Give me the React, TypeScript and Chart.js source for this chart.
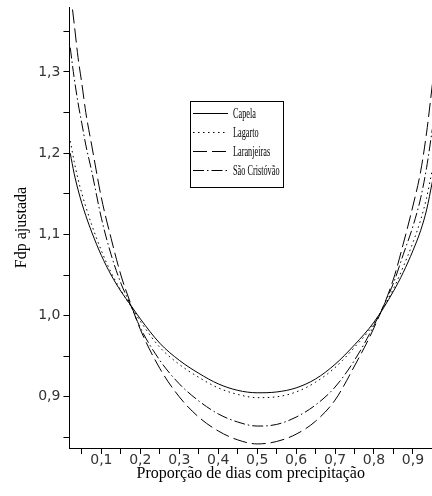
import React, { useEffect, useRef } from 'react';
import { Chart, registerables } from 'chart.js';

Chart.register(...registerables);

// Proportion of days with precipitation (x grid)
const xValues = [0.02, 0.03, 0.04, 0.05, 0.06, 0.075, 0.1, 0.125, 0.15, 0.175, 0.2, 0.25, 0.3, 0.35, 0.4, 0.45, 0.5, 0.55, 0.6, 0.65, 0.7, 0.75, 0.8, 0.85, 0.875, 0.9, 0.92, 0.935, 0.95];

const capela = [1.2, 1.175, 1.155, 1.138, 1.123, 1.103, 1.074, 1.05, 1.03, 1.013, 0.996, 0.966, 0.945, 0.929, 0.916, 0.908, 0.905, 0.906, 0.911, 0.922, 0.94, 0.964, 0.992, 1.03, 1.053, 1.08, 1.105, 1.13, 1.165];
const lagarto = [1.215, 1.19, 1.168, 1.15, 1.134, 1.112, 1.08, 1.053, 1.031, 1.012, 0.993, 0.961, 0.94, 0.924, 0.911, 0.903, 0.899, 0.9, 0.906, 0.918, 0.936, 0.961, 0.99, 1.033, 1.06, 1.09, 1.118, 1.145, 1.18];
const laranjeiras = [1.4, 1.36, 1.318, 1.285, 1.25, 1.21, 1.145, 1.095, 1.05, 1.015, 0.983, 0.935, 0.9, 0.875, 0.858, 0.847, 0.842, 0.845, 0.854, 0.87, 0.896, 0.938, 0.985, 1.045, 1.088, 1.135, 1.178, 1.225, 1.285];
const saoCristovao = [1.33, 1.293, 1.262, 1.236, 1.21, 1.178, 1.12, 1.075, 1.04, 1.013, 0.985, 0.945, 0.916, 0.895, 0.879, 0.869, 0.864, 0.866, 0.875, 0.89, 0.912, 0.945, 0.988, 1.04, 1.075, 1.11, 1.145, 1.182, 1.23];

const seriesNames = ['Capela', 'Lagarto', 'Laranjeiras', 'São Cristóvão'];
const seriesValues = [capela, lagarto, laranjeiras, saoCristovao];
const seriesDash: number[][] = [[], [1.5, 3.5], [14, 5], [11, 3, 1.5, 3]];

const xTickValues = [0.05, 0.1, 0.15, 0.2, 0.25, 0.3, 0.35, 0.4, 0.45, 0.5, 0.55, 0.6, 0.65, 0.7, 0.75, 0.8, 0.85, 0.9];
const yTickValues = [0.85, 0.9, 0.95, 1.0, 1.05, 1.1, 1.15, 1.2, 1.25, 1.3, 1.35];

const X_MIN = 0.018;
const X_MAX = 0.949;
const Y_MIN = 0.837;
const Y_MAX = 1.38;

// legend anchor (data space)
const LEGEND_X = 0.328;
const LEGEND_Y = 1.264;

const isMajor = (v: number) => Math.abs(v * 10 - Math.round(v * 10)) < 1e-6;
const fmt = (v: number) => v.toFixed(1).replace('.', ',');

const legendPlugin = {
  id: 'boxLegend',
  afterDatasetsDraw(chart: any) {
    const { ctx } = chart;
    const xs = chart.scales.x;
    const ys = chart.scales.y;
    const left = Math.round(xs.getPixelForValue(LEGEND_X));
    const top = Math.round(ys.getPixelForValue(LEGEND_Y));
    const sx = 0.55;
    ctx.save();
    ctx.font = '15px "Liberation Serif"';
    const widths = chart.data.datasets.map((d: any) => ctx.measureText(d.label).width * sx);
    const w = Math.round(43 + Math.max(...widths) + 3);
    const h = 86;
    ctx.fillStyle = '#fff';
    ctx.fillRect(left, top, w, h);
    ctx.strokeStyle = '#000';
    ctx.lineWidth = 1;
    ctx.setLineDash([]);
    ctx.strokeRect(left + 0.5, top + 0.5, w, h);
    chart.data.datasets.forEach((d: any, i: number) => {
      const cy = top + 12 + i * 19;
      ctx.setLineDash(d.borderDash || []);
      ctx.beginPath();
      ctx.moveTo(left + 3, cy + 0.5);
      ctx.lineTo(left + 38, cy + 0.5);
      ctx.stroke();
      ctx.setLineDash([]);
      ctx.save();
      ctx.translate(left + 43, cy + 1);
      ctx.scale(sx, 1);
      ctx.fillStyle = '#000';
      ctx.textBaseline = 'middle';
      ctx.fillText(d.label, 0, 0);
      ctx.restore();
    });
    ctx.restore();
  },
};

export default function App() {
  const canvasRef = useRef<HTMLCanvasElement | null>(null);

  useEffect(() => {
    if (!canvasRef.current) return;
    const datasets = seriesNames.map((name, i) => ({
      label: name,
      data: xValues.map((x, j) => ({ x, y: seriesValues[i][j] })),
      borderColor: '#000',
      borderWidth: 1,
      borderDash: seriesDash[i],
      pointRadius: 0,
      fill: false,
      cubicInterpolationMode: 'monotone' as const,
    }));

    const chart = new Chart(canvasRef.current, {
      type: 'line',
      data: { datasets },
      plugins: [legendPlugin],
      options: {
        animation: false,
        responsive: true,
        maintainAspectRatio: false,
        layout: { padding: { top: 7, left: 12, right: 0, bottom: 13 } },
        plugins: { legend: { display: false }, tooltip: { enabled: false } },
        scales: {
          x: {
            type: 'linear',
            min: X_MIN,
            max: X_MAX,
            afterBuildTicks: (s: any) => {
              s.ticks = xTickValues.map((v) => ({ value: v }));
            },
            ticks: {
              autoSkip: false,
              maxRotation: 0,
              padding: -2,
              color: '#333',
              font: { family: 'DejaVu Sans', size: 14 },
              callback: (v: any) => (isMajor(Number(v)) ? fmt(Number(v)) : ''),
            },
            grid: { drawOnChartArea: false, drawTicks: true, tickLength: 6, color: '#000' },
            border: { display: true, color: '#000', width: 1 },
            title: {
              display: true,
              text: 'Proporção de dias com precipitação',
              color: '#000',
              font: { family: 'Liberation Serif', size: 16 },
              padding: { top: -3, bottom: 0 },
            },
          },
          y: {
            type: 'linear',
            min: Y_MIN,
            max: Y_MAX,
            afterBuildTicks: (s: any) => {
              s.ticks = yTickValues.map((v) => ({ value: v }));
            },
            afterFit: (s: any) => {
              s.paddingTop = 0;
              s.paddingBottom = 0;
            },
            ticks: {
              autoSkip: false,
              padding: 3,
              color: '#333',
              font: { family: 'DejaVu Sans', size: 14 },
              callback: (v: any) => (isMajor(Number(v)) ? fmt(Number(v)) : ''),
            },
            grid: { drawOnChartArea: false, drawTicks: true, tickLength: 6, color: '#000' },
            border: { display: true, color: '#000', width: 1 },
            title: {
              display: true,
              text: 'Fdp ajustada',
              color: '#000',
              font: { family: 'Liberation Serif', size: 16 },
              padding: { top: 0, bottom: 4 },
            },
          },
        },
      },
    });
    return () => chart.destroy();
  }, []);

  return (
    <div style={{ position: 'fixed', left: 0, top: 0, width: 432, height: 496, background: '#fff' }}>
      <canvas ref={canvasRef} />
    </div>
  );
}
